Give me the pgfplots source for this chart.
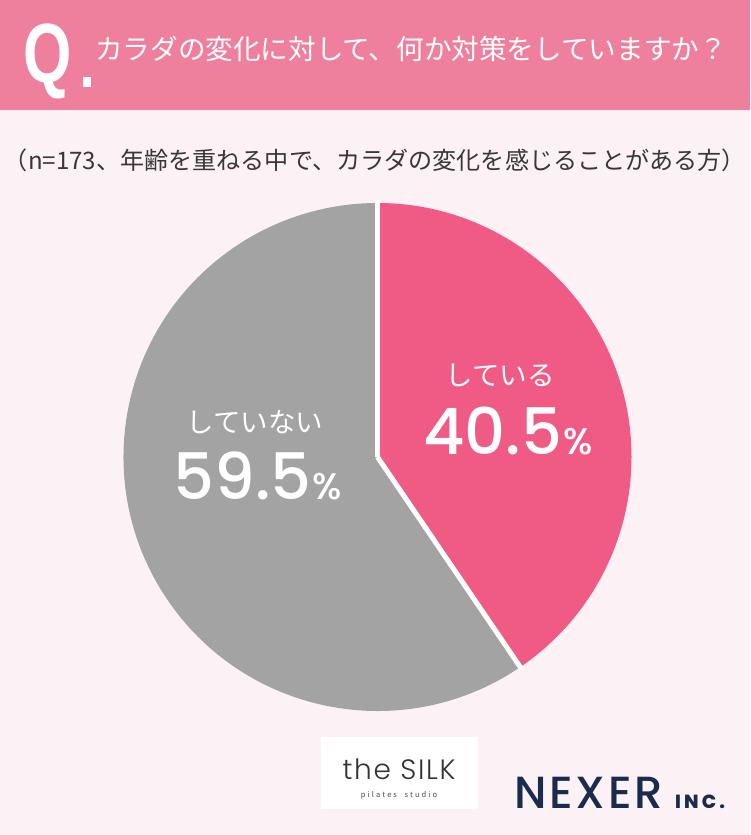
\documentclass[border=0pt]{standalone}
\usepackage{pgfplots}
\pgfplotsset{compat=1.18}
\usepackage{pgfplotstable}
\usepackage{fontspec}
\setmainfont{Noto Sans CJK JP}
\newfontfamily\jp{Noto Sans CJK JP}
\newfontfamily\pop{Poppins}[UprightFont={* Medium}]
\newfontfamily\popl{Poppins}[UprightFont={* Light}]
\newfontfamily\lib{Liberation Sans}
\definecolor{hdr}{RGB}{238,128,158}
\definecolor{bg}{RGB}{252,242,245}
\definecolor{pinkslice}{RGB}{239,91,132}
\definecolor{grayslice}{RGB}{163,163,163}
\definecolor{navy}{RGB}{26,43,76}
\definecolor{txt}{RGB}{55,55,55}

\pgfplotstableread{
idx value
0 40.5
1 59.5
}\piedata

\begin{document}%
\begin{tikzpicture}[x=1pt,y=1pt]
\pgfplotstablegetelem{0}{value}\of\piedata
\pgfmathsetmacro\va{\pgfplotsretval}
\pgfmathsetmacro\enda{90-3.6*\va}
\pgfmathsetmacro\cx{cos(\enda)}
\pgfmathsetmacro\cy{sin(\enda)}
\path[use as bounding box] (0,0) rectangle (750,835);
\fill[bg] (0,0) rectangle (750,835);
\fill[hdr] (0,725) rectangle (750,835);
% header
\node[anchor=base west, inner sep=0, text=white] at (23,752)
  {\scalebox{0.74}[1]{\lib\bfseries\fontsize{84}{84}\selectfont Q}};
\fill[white] (83,748) rectangle (91,758);
\node[anchor=west, inner sep=0, text=white] at (95,786)
  {\jp\fontsize{27.6}{27.6}\selectfont カラダの変化に対して、何か対策をしていますか？};
% subtitle
\node[anchor=center, inner sep=0, text=txt] at (375,675)
  {\jp\fontsize{24.1}{24.1}\selectfont （n=173、年齢を重ねる中で、カラダの変化を感じることがある方）};
% pie
\begin{axis}[
  hide axis, scale only axis, width=508pt, height=508pt,
  xmin=-1, xmax=1, ymin=-1, ymax=1,
  at={(377.5pt,378pt)}, anchor=center, clip=false]
\fill[pinkslice] (axis cs:0,0) -- (axis cs:0,1) arc[start angle=90, end angle=\enda, radius=254pt] -- cycle;
\fill[grayslice] (axis cs:0,0) -- (axis cs:\cx,\cy) arc[start angle=\enda, end angle=-270, radius=254pt] -- cycle;
\draw[white, line width=5pt] (axis cs:0,0) -- (axis cs:0,1.01);
\draw[white, line width=5pt] (axis cs:0,0) -- (axis cs:1.01*\cx,1.01*\cy);
\end{axis}
% labels
\node[text=white, inner sep=0] at (500,460) {\jp\fontsize{27.5}{27.5}\selectfont している};
\node[text=white, inner sep=0, anchor=base] at (508,380)
  {\pop\fontsize{64}{64}\selectfont 40.5\hspace{1pt}\fontsize{37}{37}\selectfont\%};
\node[text=white, inner sep=0] at (255,413) {\jp\fontsize{27.5}{27.5}\selectfont していない};
\node[text=white, inner sep=0, anchor=base] at (258,335)
  {\pop\fontsize{64}{64}\selectfont 59.5\hspace{1pt}\fontsize{37}{37}\selectfont\%};
% logos
\fill[white] (321,26) rectangle (478,98);
\node[text=black!80, inner sep=0, anchor=base] at (399,55)
  {\popl\addfontfeatures{LetterSpace=6}\fontsize{28}{28}\selectfont the SILK};
\node[text=black!70, inner sep=0] at (399,40)
  {\itshape\fontsize{7.5}{7.5}\selectfont p\;i\;l\;a\;t\;e\;s\quad s\;t\;u\;d\;i\;o};
\node[text=navy, inner sep=0, anchor=base west] at (514,26)
  {\pop\addfontfeatures{LetterSpace=6}\fontsize{45}{45}\selectfont NEXER};
\node[text=navy, inner sep=0, anchor=base west] at (675,26)
  {\pop\bfseries\fontsize{19}{19}\selectfont I\,N\,C\,.};
\end{tikzpicture}%
\end{document}
